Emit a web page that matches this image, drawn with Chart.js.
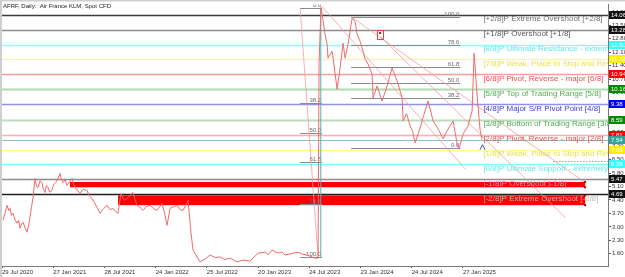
<!DOCTYPE html>
<html>
<head>
<meta charset="utf-8">
<script src="https://cdn.jsdelivr.net/npm/chart.js@4.4.0/dist/chart.umd.min.js"></script>
<style>
  html, body { margin: 0; padding: 0; background: #fff; overflow: hidden; }
  #wrap { width: 625px; height: 277px; position: relative; }
</style>
</head>
<body>
<div id="wrap"><canvas id="c" width="625" height="277"></canvas></div>
<script>
// AFRF daily, x = months since 29 Jul 2020
var xTickMonths = [0, 6, 12, 18, 24, 30, 36, 42, 48, 54];
var xTickLabels = ['29 Jul 2020', '27 Jan 2021', '28 Jul 2021', '24 Jan 2022', '25 Jul 2022',
                   '20 Jan 2023', '24 Jul 2023', '23 Jan 2024', '24 Jul 2024', '27 Jan 2025'];
var yTicks = [1.60, 2.30, 3.00, 3.70, 4.40, 5.10, 5.80, 6.50, 7.20, 7.90, 8.60, 9.30, 10.00,
              10.70, 11.40, 12.10, 12.80, 13.50, 14.20];

var priceMonths = [0.12, 0.35, 0.59, 0.80, 0.94, 1.10, 1.29, 1.50, 1.76, 1.95, 2.11, 2.30, 2.46, 2.70,
  2.93, 3.10, 3.28, 3.45, 3.63, 3.87, 4.05, 4.22, 4.45, 4.69, 4.85, 5.04, 5.20, 5.39, 5.60, 5.86, 6.05,
  6.21, 6.50, 6.80, 6.95, 7.15, 7.40, 7.62, 7.90, 8.20, 8.40, 8.56, 8.85, 9.14, 9.50, 9.96, 10.25,
  10.55, 10.85, 11.13, 11.48, 11.90, 12.31, 12.65, 13.01, 13.30, 13.59, 13.95, 14.20, 14.41, 14.90,
  15.35, 15.60, 15.82, 16.20, 16.52, 16.90, 17.34, 17.75, 18.16, 18.75, 19.05, 19.34, 19.69, 20.10,
  20.51, 20.85, 21.21, 21.50, 21.80,
  22.03, 22.15, 22.38, 23.20, 23.79, 24.38, 25.00, 25.55, 26.10, 26.72, 27.54, 28.24, 29.06, 30.00,
  30.82, 31.20, 31.64, 32.35, 32.80, 33.16, 34.10, 34.69, 35.20, 35.74, 36.20, 36.68, 37.03,
  37.15, 37.38, 37.50, 37.85, 38.09, 38.20, 38.67,
  38.79, 39.26, 39.61, 39.96, 40.20, 40.55, 40.90, 41.02, 41.37, 41.60, 41.95, 42.31, 42.54, 42.89,
  43.36, 43.48, 43.95, 44.53, 45.12, 45.70, 46.29, 46.88, 47.00, 47.40, 47.81, 48.10, 48.40, 48.99,
  49.40, 49.92, 50.51, 51.10, 51.68, 52.15, 52.85, 53.32, 53.56, 54.03, 54.61, 55.08, 55.31, 55.67,
  56.02, 56.25];
var priceValues = [3.34, 3.71, 4.12, 3.85, 3.96, 3.60, 3.71, 3.40, 3.19, 3.35, 2.93, 3.15, 3.24, 2.95,
  2.72, 3.05, 3.50, 4.00, 4.53, 5.52, 5.10, 5.05, 5.40, 5.31, 4.95, 4.79, 5.15, 5.05, 4.80, 4.90, 5.20,
  5.26, 5.45, 5.78, 5.50, 5.31, 5.45, 5.16, 5.35, 5.52, 5.20, 5.05, 4.90, 4.74, 4.95, 4.90, 4.60,
  4.48, 4.25, 4.02, 3.71, 3.95, 4.12, 3.90, 3.96, 3.80, 3.71, 4.74, 4.45, 4.38, 4.60,
  4.79, 4.40, 4.12, 4.00, 3.86, 4.05, 4.12, 3.95, 3.86, 4.22, 3.70, 3.08, 3.96, 4.05,
  4.12, 3.90, 3.86, 4.10, 4.38,
  3.24, 2.67, 1.79, 1.17, 1.32, 1.53, 1.40, 1.43, 1.30, 1.37, 1.17, 1.27, 1.22, 1.63,
  1.68, 1.55, 1.79, 1.63, 1.70, 1.53, 1.63, 1.68, 1.58, 1.53, 1.45, 1.37, 1.37,
  11.63, 14.43, 14.07, 13.03, 12.51, 11.79, 12.15,
  11.79, 10.18, 11.27, 12.57, 11.79, 12.51, 13.55, 13.86, 13.71, 13.03, 12.67, 12.15, 11.74, 11.48,
  10.96, 9.72, 10.34, 9.56, 10.34, 11.27, 10.60, 9.72, 8.52, 8.90, 8.27, 8.00, 7.38, 8.16,
  8.80, 9.56, 8.52, 8.10, 7.59, 8.01, 8.52, 7.33, 7.07, 7.85, 8.27, 9.04, 12.05, 9.82,
  8.01, 7.54];
var lastPrice = 7.54;

// big reverse-split candle
var candleMonths = [37.35, 37.35];
var candleValues = [1.37, 14.38];

// zigzag / trend lines (null separates segments)
var trendMonths = [34.93, 37.03, null, 41.02, 68.32, null, 44.30, 66.00, null, 37.50, 54.30];
var trendValues = [14.38, 1.43, null, 13.91, 5.31, null, 12.92, 3.48, null, 14.48, 6.00];

// Murrey math levels
var murreyLevels = [14.06, 13.28, 12.50, 11.72, 10.94, 10.16, 9.38, 8.59, 7.81, 7.03, 6.25, 5.47, 4.69];
var murreyTexts = [
  '[+2/8]P Extreme Overshoot [+2/8]',
  '[+1/8]P Overshoot [+1/8]',
  '[8/8]P Ultimate Resistance - extremely overbought [8/8]',
  '[7/8]P Weak, Place to Stop and Reverse [7/8]',
  '[6/8]P Pivot, Reverse - major [6/8]',
  '[5/8]P Top of Trading Range [5/8]',
  '[4/8]P Major S/R Pivot Point [4/8]',
  '[3/8]P Bottom of Trading Range [3/8]',
  '[2/8]P Pivot, Reverse - major [2/8]',
  '[1/8]P Weak, Place to Stop and Reverse [1/8]',
  '[0/8]P Ultimate Support - extremely oversold [0/8]',
  '[-1/8]P Overshoot [-1/8]',
  '[-2/8]P Extreme Overshoot [-2/8]'
];
var murreyTextMonth = 56.4;

// overshoot zones
var bandStart = [7.97, 13.60];
var bandEnd = [68.32, 68.32];
var bandLow = [5.06, 4.13];
var bandHigh = [5.34, 4.64];

// fibonacci retracements
var fibPercents = [0, 38.2, 50, 61.8, 78.6, 100];
var fib1From = 34.93, fib1To = 37.50, fib1Top = 14.38, fib1Bottom = 1.43;
var fib2Percents = [100, 78.6, 61.8, 50, 38.2, 0];
var fib2From = 40.90, fib2To = 53.70, fib2Top = 13.91, fib2Bottom = 7.13;

// small objects: box marker, arrow, dotted level
var boxMarker = { x: 44.3, y: 13.05 };
var arrowMarker = { x: 56.3, y: 7.15 };
var dotLevel = { from: 64.6, to: 71, y: 6.45 };

// styles
var lineColors = ['#3c3c3c', '#8c8c8c', '#86ffff', '#ffff86', '#f4a0a0', '#b0dab0', '#9090f0',
                  '#bcdcbc', '#f8b0b0', '#ffff96', '#86ffff', '#8c8c8c', '#202020'];
var textColors = ['#707070', '#585858', '#66e8e8', '#e8e24a', '#e85050', '#52aa52', '#4040e0',
                  '#52aa52', '#e85050', '#e8e24a', '#66e8e8', '#a8a8a8', '#b8b8b8'];
var boxColors = ['#111111', '#111111', '#33ffff', '#ffee00', '#ff0000', '#008a00', '#0000ff',
                 '#008a00', '#ff0000', '#ffee00', '#33ffff', '#111111', '#111111'];

function pts(xs, ys) {
  return xs.map(function(x, i) { return x === null ? { x: null, y: null } : { x: x, y: ys[i] }; });
}

var overlay = {
  id: 'overlay',
  beforeDraw: function(chart) {
    var c = chart.ctx;
    c.save();
    c.fillStyle = '#fff';
    c.fillRect(0, 0, chart.width, chart.height);
    c.fillStyle = '#cfcfcf';
    c.fillRect(0, 0, 2, chart.height);
    c.fillRect(0, 0, chart.width, 1.5);
    c.restore();
  },
  beforeDatasetsDraw: function(chart) {
    var c = chart.ctx, a = chart.chartArea, xs = chart.scales.x, ys = chart.scales.y;
    c.save();
    c.beginPath(); c.rect(a.left, a.top, a.right - a.left, a.bottom - a.top); c.clip();
    // red zones
    c.fillStyle = '#ff0000';
    bandStart.forEach(function(s, i) {
      var x0 = xs.getPixelForValue(s), x1 = xs.getPixelForValue(bandEnd[i]);
      var y0 = ys.getPixelForValue(bandHigh[i]), y1 = ys.getPixelForValue(bandLow[i]);
      c.fillRect(x0, y0, x1 - x0, y1 - y0);
    });
    // murrey lines
    murreyLevels.forEach(function(v, i) {
      var y = Math.round(ys.getPixelForValue(v)) + 0.5;
      c.strokeStyle = lineColors[i];
      c.lineWidth = (i === 5 || i === 7) ? 2 : 1.5;
      c.beginPath(); c.moveTo(a.left, y); c.lineTo(a.right, y); c.stroke();
    });
    // bid line
    var yb = Math.round(ys.getPixelForValue(lastPrice)) + 0.5;
    c.strokeStyle = '#88c4c4'; c.lineWidth = 1;
    c.beginPath(); c.moveTo(a.left, yb); c.lineTo(a.right, yb); c.stroke();
    // dotted level
    var yd = Math.round(ys.getPixelForValue(dotLevel.y)) + 0.5;
    c.strokeStyle = '#e04040'; c.setLineDash([1, 2]);
    c.beginPath(); c.moveTo(xs.getPixelForValue(dotLevel.from), yd); c.lineTo(xs.getPixelForValue(dotLevel.to), yd); c.stroke();
    c.setLineDash([]);
    // fib lines
    c.font = '6px "Liberation Sans"';
    c.fillStyle = '#6a6a6a';
    c.textAlign = 'right';
    c.textBaseline = 'bottom';
    c.strokeStyle = '#8a8a8a'; c.lineWidth = 1;
    fibPercents.forEach(function(p) {
      var v = fib1Top - p / 100 * (fib1Top - fib1Bottom);
      var y = Math.round(ys.getPixelForValue(v)) + 0.5;
      var x0 = xs.getPixelForValue(fib1From), x1 = xs.getPixelForValue(fib1To);
      c.beginPath(); c.moveTo(x0, y); c.lineTo(x1, y); c.stroke();
      c.fillText(p.toFixed(1), x1 - 1, y - 0.5);
    });
    fib2Percents.forEach(function(p) {
      var v = fib2Bottom + p / 100 * (fib2Top - fib2Bottom);
      var y = Math.round(ys.getPixelForValue(v)) + 0.5;
      var x0 = xs.getPixelForValue(fib2From), x1 = xs.getPixelForValue(fib2To);
      c.beginPath(); c.moveTo(x0, y); c.lineTo(x1, y); c.stroke();
      c.fillText(p.toFixed(1), x1 - 1, y - 0.5);
    });
    c.restore();
  },
  afterDatasetsDraw: function(chart) {
    var c = chart.ctx, a = chart.chartArea, xs = chart.scales.x, ys = chart.scales.y;
    c.save();
    c.beginPath(); c.rect(a.left, a.top, a.right - a.left, a.bottom - a.top); c.clip();
    c.font = '8px "Liberation Sans"';
    c.textAlign = 'left';
    c.textBaseline = 'top';
    var tx = xs.getPixelForValue(murreyTextMonth);
    murreyTexts.forEach(function(t, i) {
      c.fillStyle = textColors[i];
      c.fillText(t, tx, ys.getPixelForValue(murreyLevels[i]) + 0.5);
    });
    // band end markers
    c.fillStyle = '#b00000';
    bandEnd.forEach(function(e, i) {
      var x = xs.getPixelForValue(e);
      c.fillRect(x - 1, ys.getPixelForValue(bandHigh[i]) - 1, 2, 2);
      c.fillRect(x - 1, ys.getPixelForValue(bandLow[i]) - 1, 2, 2);
    });
    // red box marker
    var bx = xs.getPixelForValue(boxMarker.x), by = ys.getPixelForValue(boxMarker.y);
    c.strokeStyle = '#f04040'; c.lineWidth = 1;
    c.strokeRect(Math.round(bx - 3) + 0.5, Math.round(by - 4) + 0.5, 6, 9);
    c.fillStyle = '#a02020';
    c.fillRect(Math.round(bx) - 1, Math.round(by) - 2, 2, 2);
    // blue arrow
    var ax = xs.getPixelForValue(arrowMarker.x), ay = ys.getPixelForValue(arrowMarker.y);
    c.strokeStyle = '#3050e0'; c.lineWidth = 1;
    c.beginPath(); c.moveTo(ax - 2.5, ay + 2.5); c.lineTo(ax, ay - 2.5); c.lineTo(ax + 2.5, ay + 2.5); c.stroke();
    c.restore();

    // price boxes on the right axis
    c.save();
    c.font = '6px "Liberation Sans"';
    c.textAlign = 'left';
    c.textBaseline = 'middle';
    var boxes = murreyLevels.map(function(v, i) { return { v: v, col: boxColors[i] }; });
    boxes.splice(9, 0, { v: lastPrice, col: '#2fa59a' });
    boxes.forEach(function(b) {
      var y = Math.round(ys.getPixelForValue(b.v));
      c.fillStyle = b.col;
      c.fillRect(a.right + 1, y - 4, 17, 8);
      c.fillStyle = '#ffffff';
      c.fillText(b.v.toFixed(2), a.right + 3, y + 0.5);
    });
    // title
    c.font = '6px "Liberation Sans"';
    c.fillStyle = '#1a1a1a';
    c.textBaseline = 'top';
    c.fillText('AFRF, Daily:  Air France KLM, Spot CFD', 3, 3);
    c.restore();
  }
};

new Chart(document.getElementById('c'), {
  type: 'line',
  data: {
    datasets: [
      {
        data: pts(priceMonths, priceValues),
        borderColor: '#f06a6a',
        borderWidth: 1,
        pointRadius: 0,
        tension: 0
      },
      {
        data: pts(candleMonths, candleValues),
        borderColor: '#4fb3b0',
        borderWidth: 1,
        pointRadius: 0
      },
      {
        data: pts(trendMonths, trendValues),
        borderColor: '#f59a9a',
        borderWidth: 0.8,
        pointRadius: 0,
        spanGaps: false
      }
    ]
  },
  options: {
    responsive: false,
    devicePixelRatio: 1,
    animation: false,
    layout: { padding: { left: 2, top: 3, right: 0, bottom: 0 } },
    plugins: { legend: { display: false }, tooltip: { enabled: false } },
    scales: {
      x: {
        type: 'linear',
        min: 0,
        max: 71,
        afterBuildTicks: function(s) { s.ticks = xTickMonths.map(function(v) { return { value: v }; }); },
        afterFit: function(s) { s.height = 11; },
        grid: { display: true, drawOnChartArea: false, drawTicks: true, tickLength: 2, color: '#555' },
        border: { display: true, color: '#7a7a7a', width: 1 },
        ticks: {
          align: 'start',
          padding: 1,
          maxRotation: 0,
          autoSkip: false,
          color: '#333',
          font: { family: 'Liberation Sans', size: 6 },
          callback: function(v) { var i = xTickMonths.indexOf(v); return i >= 0 ? xTickLabels[i] : ''; }
        }
      },
      y: {
        type: 'linear',
        position: 'right',
        min: 0.96,
        max: 14.58,
        afterBuildTicks: function(s) { s.ticks = yTicks.map(function(v) { return { value: v }; }); },
        afterFit: function(s) { s.width = 17; },
        grid: { display: true, drawOnChartArea: false, drawTicks: true, tickLength: 3, color: '#555' },
        border: { display: true, color: '#7a7a7a', width: 1 },
        ticks: {
          padding: 1,
          autoSkip: false,
          color: '#333',
          font: { family: 'Liberation Sans', size: 6 },
          callback: function(v) { return Number(v).toFixed(2); }
        }
      }
    }
  },
  plugins: [overlay]
});
</script>
</body>
</html>
